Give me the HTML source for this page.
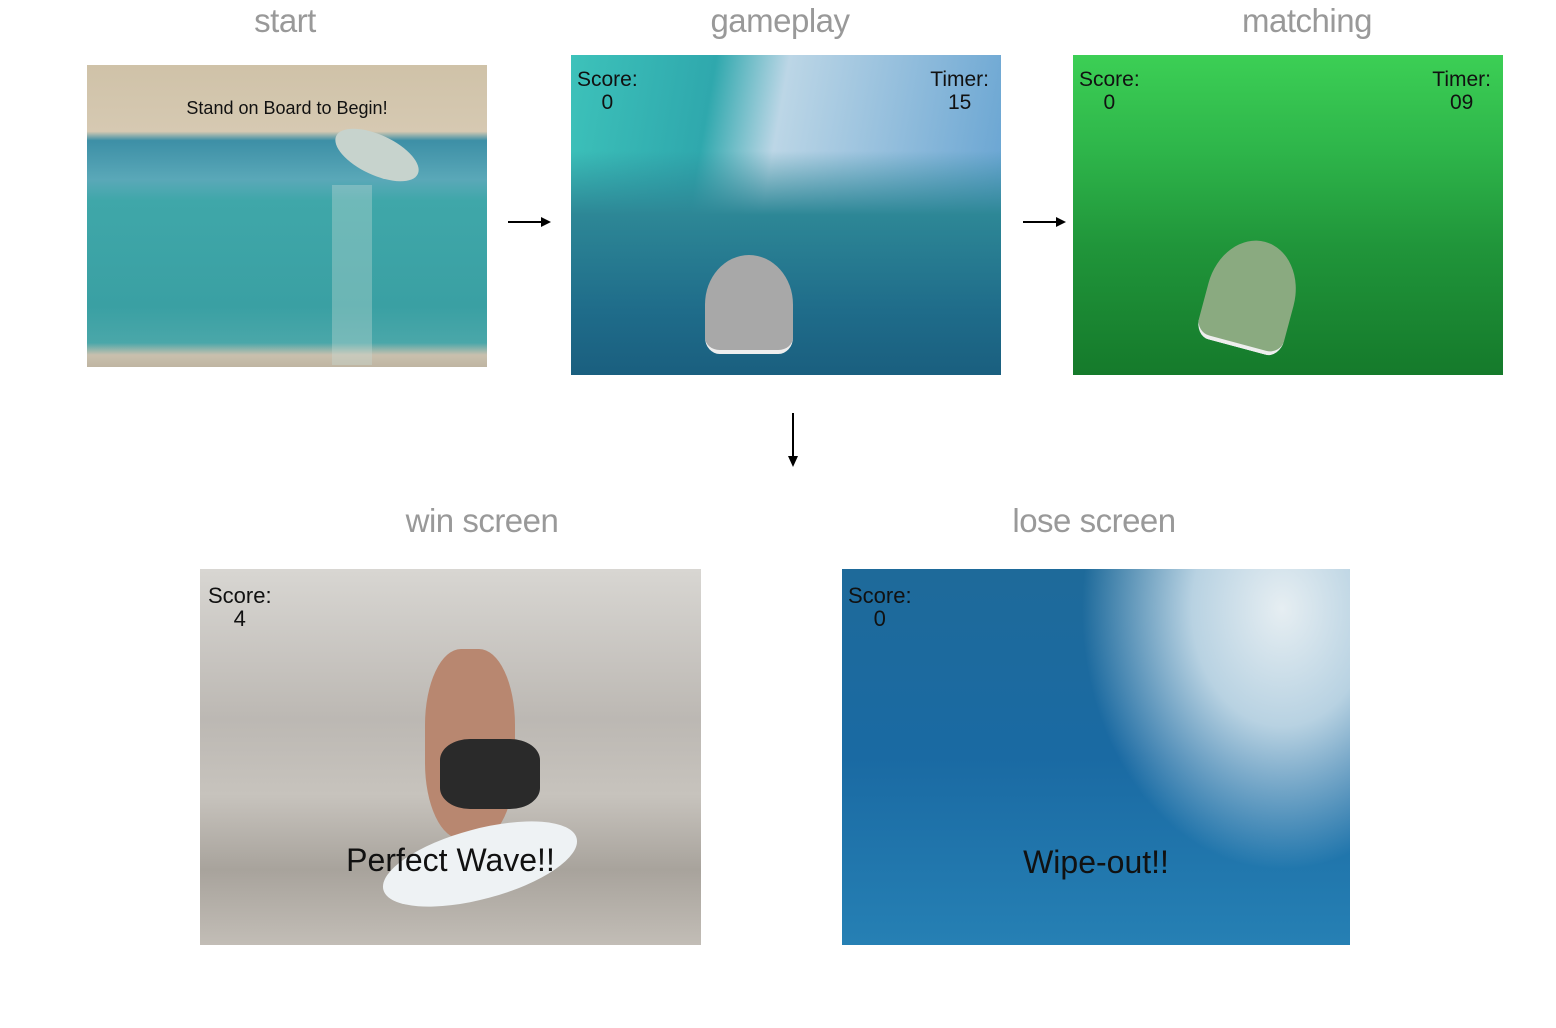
<!DOCTYPE html>
<html><head><meta charset="utf-8"><style>
body{margin:0;width:1556px;height:1028px;background:#fff;position:relative;overflow:hidden;font-family:"Liberation Sans",sans-serif}
.lbl{position:absolute;color:#999;font-size:33px;font-weight:300;transform:translateX(-50%);white-space:nowrap;letter-spacing:-0.5px}
.img{position:absolute;overflow:hidden}
.t{position:absolute;color:#111;font-size:21px;line-height:23px;text-align:center}
.arrow{position:absolute}
</style></head><body>
<div class="lbl" style="left:285px;top:2px">start</div>
<div class="lbl" style="left:780px;top:2px">gameplay</div>
<div class="lbl" style="left:1307px;top:2px">matching</div>
<div class="lbl" style="left:482px;top:502px">win screen</div>
<div class="lbl" style="left:1094px;top:502px">lose screen</div>

<div class="img" style="left:87px;top:65px;width:400px;height:302px;background:linear-gradient(180deg,#cfc2a8 0%,#d6c9b2 22%,#3d8fa6 25%,#5aa8b8 38%,#3fa7a9 45%,#3aa0a3 80%,#4aa7a9 92%,#c9c0ae 96%,#bfb5a2 100%)">
  <div style="position:absolute;left:245px;top:70px;width:90px;height:40px;background:#c7d3cd;border-radius:50%;transform:rotate(25deg)"></div>
  <div style="position:absolute;left:245px;top:120px;width:40px;height:180px;background:rgba(200,220,215,0.35)"></div>
  <div class="t" style="left:0;width:400px;top:32px;font-size:18px">Stand on Board to Begin!</div>
</div>

<div class="img" style="left:571px;top:55px;width:430px;height:320px;background:linear-gradient(180deg,rgba(0,0,0,0) 0%,rgba(0,0,0,0) 30%,#2d8796 50%,#1f6c8a 80%,#1a5f7f 100%),linear-gradient(100deg,#3dc2ba 0%,#2fa8ad 30%,#bcd6e6 45%,#5f9fd0 100%)">
  <div style="position:absolute;left:134px;top:200px;width:88px;height:95px;background:#a8a8a8;border-radius:60% 60% 20% 20%;border-bottom:4px solid #eee"></div>
  <div class="t" style="left:6px;top:13px">Score:<br>0</div>
  <div class="t" style="right:12px;top:13px">Timer:<br>15</div>
</div>

<div class="img" style="left:1073px;top:55px;width:430px;height:320px;background:linear-gradient(180deg,#3ccf55 0%,#2eb54a 30%,#20953a 60%,#157a2b 100%)">
  <div style="position:absolute;left:134px;top:185px;width:88px;height:105px;background:#8aaa80;border-radius:60% 60% 20% 20%;border-bottom:4px solid #eee;transform:rotate(15deg)"></div>
  <div class="t" style="left:6px;top:13px">Score:<br>0</div>
  <div class="t" style="right:12px;top:13px">Timer:<br>09</div>
</div>

<div class="img" style="left:200px;top:569px;width:501px;height:376px;background:linear-gradient(180deg,#d8d6d2 0%,#bcb8b3 40%,#c7c3bd 60%,#a8a39c 80%,#c2bdb6 100%)">
  <div style="position:absolute;left:225px;top:80px;width:90px;height:190px;background:#b88770;border-radius:40%"></div>
  <div style="position:absolute;left:240px;top:170px;width:100px;height:70px;background:#2a2a2a;border-radius:30%"></div>
  <div style="position:absolute;left:180px;top:260px;width:200px;height:70px;background:#eef2f4;border-radius:50%;transform:rotate(-15deg)"></div>
  <div class="t" style="left:8px;top:15px;font-size:22px">Score:<br>4</div>
  <div class="t" style="left:0;width:501px;top:273px;font-size:32px;line-height:36px">Perfect Wave!!</div>
</div>

<div class="img" style="left:842px;top:569px;width:508px;height:376px;background:radial-gradient(ellipse 200px 260px at 440px 40px,#e6eef2 0%,#b8d2e2 45%,rgba(60,130,180,0) 100%),linear-gradient(180deg,#1e6a9a 0%,#1a6aa3 50%,#2680b4 100%)">
  <div class="t" style="left:6px;top:15px;font-size:22px">Score:<br>0</div>
  <div class="t" style="left:0;width:508px;top:275px;font-size:32px;line-height:36px">Wipe-out!!</div>
</div>

<svg class="arrow" style="left:505px;top:214px" width="50" height="16"><line x1="3" y1="8" x2="38" y2="8" stroke="#000" stroke-width="2"/><polygon points="36,3 46,8 36,13" fill="#000"/></svg>
<svg class="arrow" style="left:1020px;top:214px" width="50" height="16"><line x1="3" y1="8" x2="38" y2="8" stroke="#000" stroke-width="2"/><polygon points="36,3 46,8 36,13" fill="#000"/></svg>
<svg class="arrow" style="left:785px;top:410px" width="16" height="60"><line x1="8" y1="3" x2="8" y2="48" stroke="#000" stroke-width="2"/><polygon points="3,46 8,57 13,46" fill="#000"/></svg>
</body></html>
